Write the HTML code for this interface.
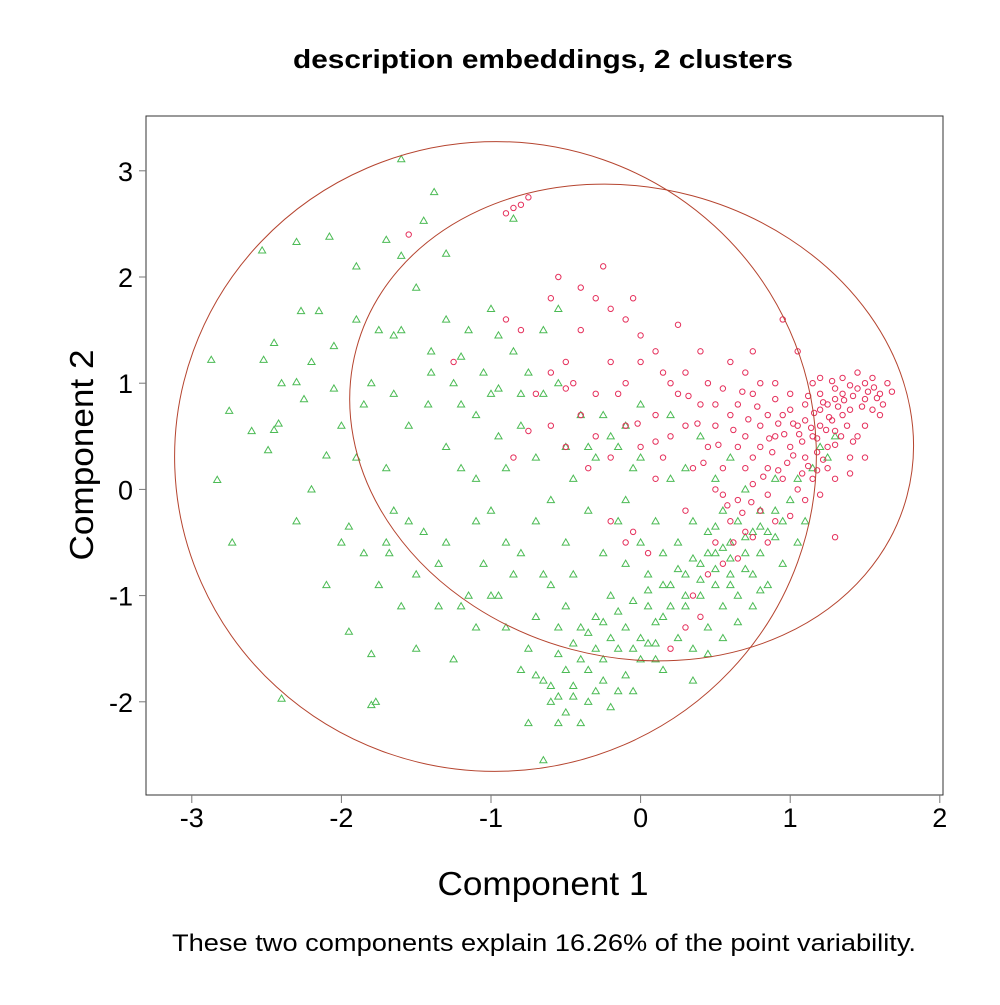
<!DOCTYPE html>
<html><head><meta charset="utf-8"><style>
body{margin:0;background:#fff}
svg text{font-family:"Liberation Sans",Arial,sans-serif}
</style></head><body>
<svg id="chart" width="1000" height="1000" viewBox="0 0 1000 1000" xmlns="http://www.w3.org/2000/svg">
<rect width="1000" height="1000" fill="#fff"/>
<text x="543" y="68" text-anchor="middle" font-size="26" font-weight="bold" textLength="500" lengthAdjust="spacingAndGlyphs">description embeddings, 2 clusters</text>
<rect x="146" y="116" width="797" height="679" fill="none" stroke="#333" stroke-width="1"/>
<g id="xaxis"></g>
<g id="yaxis"></g>
<text x="543" y="895" text-anchor="middle" font-size="33" textLength="211" lengthAdjust="spacingAndGlyphs">Component 1</text>
<text transform="translate(93,455) rotate(-90)" text-anchor="middle" font-size="33" textLength="211" lengthAdjust="spacingAndGlyphs">Component 2</text>
<text x="544" y="951" text-anchor="middle" font-size="24" textLength="744" lengthAdjust="spacingAndGlyphs">These two components explain 16.26% of the point variability.</text>
<g id="marks"></g>
</svg>
<script>
const xTicks=[-3,-2,-1,0,1,2];
const yTicks=[-2,-1,0,1,2,3];
const greenPts=[-2.87,1.22,-2.83,0.09,-2.75,0.74,-2.73,-0.5,-2.53,2.25,-2.52,1.22,-2.49,0.37,-2.45,1.38,-2.45,0.56,-2.42,0.62,-2.4,-1.97,-2.3,2.33,-2.3,1.01,-2.27,1.68,-2.25,0.85,-2.2,1.2,-2.15,1.68,-2.1,0.32,-2.1,-0.9,-2.08,2.38,-2.05,0.95,-2.0,0.6,-1.95,-1.34,-1.9,1.6,-1.9,2.1,-1.85,0.8,-1.8,-1.55,-1.8,-2.03,-1.77,-2.0,-1.75,1.5,-1.7,2.35,-1.7,0.2,-1.68,-0.6,-1.65,1.45,-1.6,3.11,-1.6,1.5,-1.55,-0.3,-1.5,-1.5,-1.45,2.53,-1.42,0.8,-1.38,2.8,-1.3,2.22,-1.3,-0.5,-1.25,1.0,-1.2,0.2,-1.15,-1.0,-1.1,-0.3,-1.05,1.1,-1.0,1.7,-0.95,0.5,-0.9,-1.3,-0.85,2.55,
-1.95,-0.35,-1.85,-0.6,-1.75,-0.9,-1.65,-0.2,-1.6,-1.1,-1.55,0.6,-1.5,-0.8,-1.45,-0.4,-1.4,1.3,-1.35,-1.1,-1.3,0.4,-1.25,-1.6,-1.2,0.8,-1.15,1.5,-1.1,0.1,-1.05,-0.7,-1.0,-0.2,-1.0,0.9,-0.95,-1.0,-0.9,0.2,-0.85,1.3,-0.8,-0.6,-0.8,0.6,-0.75,1.1,-0.75,-1.5,-0.7,-0.3,-0.7,0.3,-0.65,0.9,-0.65,-1.8,-0.6,-0.9,-0.6,-0.1,-0.55,1.0,-0.55,-1.3,-0.5,0.4,-0.5,-0.5,-0.5,-2.1,-0.45,-1.95,-0.45,-0.8,-0.4,0.7,-0.4,-1.6,-0.35,-0.2,-0.35,-2.0,-0.3,-1.2,-0.3,0.3,-0.25,-0.6,-0.25,-1.8,-0.2,0.5,-0.2,-1.0,-0.15,-1.5,-0.15,-0.3,-0.1,-1.3,-0.1,-0.7,-0.05,-1.9,-0.05,0.2,0.0,-1.4,0.0,-0.5,0.05,-1.1,0.05,-0.8,0.1,-1.6,0.1,-0.3,0.15,-1.2,0.15,-0.6,0.2,-0.9,0.2,0.1,0.25,-1.4,0.25,-0.5,0.3,-0.8,0.3,-1.1,0.35,-0.3,0.35,-1.5,0.4,-0.7,0.4,-1.0,0.45,-0.4,0.45,-1.3,0.5,-0.6,0.5,-0.9,0.55,-0.2,0.55,-1.1,0.6,-0.5,0.6,-0.8,0.65,-0.3,0.65,-1.0,0.7,-0.6,0.7,0.0,0.75,-0.4,0.75,-0.8,0.8,-0.2,0.8,-0.6,0.85,-0.4,0.9,-0.2,0.9,0.1,0.95,-0.3,1.0,-0.1,1.05,0.1,1.1,-0.3,1.15,0.2,1.2,0.4,1.25,0.3,1.3,0.5,
-0.7,-1.75,-0.6,-1.85,-0.55,-2.2,-0.6,-2.0,-0.5,-1.7,-0.4,-2.2,-0.3,-1.9,-0.2,-2.05,-0.1,-1.75,-0.05,-1.5,0.05,-1.45,0.1,-1.25,-0.2,-1.4,-0.3,-1.5,-0.4,-1.3,-0.5,-1.1,-0.65,-0.8,-0.7,-1.2,-0.75,-2.2,-0.8,-1.7,-0.65,-2.55,-0.85,-0.8,-0.9,-0.5,-1.0,-1.0,-1.1,-1.3,-1.2,-1.1,-1.35,-0.7,-0.95,1.45,-0.8,0.9,-0.65,1.5,-0.55,1.7,-0.45,0.1,-0.35,0.4,-0.25,0.7,-0.15,0.4,-0.1,0.6,0.0,0.3,-1.3,1.6,-1.5,1.9,-1.6,2.2,-1.4,1.1,-1.2,1.25,-1.1,0.7,-0.95,0.95,-2.3,-0.3,-2.2,0.0,-2.0,-0.5,-1.9,0.3,-1.7,-0.5,-1.65,0.9,-1.8,1.0,-2.05,1.35,-2.4,1.0,-2.6,0.55,-0.1,-0.1,0.3,0.2,0.5,0.1,0.6,0.3,0.4,0.5,0.2,0.7,0.0,0.8,0.15,-1.7,0.35,-1.8,0.45,-1.55,0.55,-1.4,0.65,-1.25,0.75,-1.1,0.85,-0.9,0.95,-0.7,1.05,-0.5,0.6,-0.9,0.5,-0.35,0.8,-0.95,0.7,-0.75,
-0.45,-1.85,-0.55,-1.95,-0.35,-1.7,-0.25,-1.6,-0.15,-1.9,0.0,-1.6,0.1,-1.45,0.2,-1.1,0.3,-1.0,0.4,-0.85,0.5,-0.75,0.6,-0.65,0.7,-0.45,0.8,-0.35,0.9,-0.45,0.55,-0.55,0.45,-0.6,0.35,-0.65,0.25,-0.75,0.15,-0.9,0.05,-0.95,-0.05,-1.05,-0.15,-1.15,-0.25,-1.25,-0.35,-1.35,-0.45,-1.45,-0.55,-1.55];
const redPts=[-0.9,2.6,-0.85,2.65,-0.8,2.68,-0.75,2.75,-1.55,2.4,-1.25,1.2,-0.9,1.6,-0.8,1.5,-0.6,1.8,-0.55,2.0,-0.4,1.9,-0.3,1.8,-0.25,2.1,-0.2,1.7,-0.1,1.6,-0.05,1.8,0.0,1.45,-0.4,1.5,-0.5,1.2,-0.6,1.1,-0.7,0.9,-0.45,1.0,-0.3,0.9,-0.2,1.2,-0.1,1.0,0.0,1.2,0.1,1.3,0.2,1.0,0.25,1.55,0.3,1.1,0.4,1.3,0.45,1.0,0.5,0.8,0.6,1.2,0.7,1.1,0.75,1.3,0.8,1.0,0.9,1.0,0.95,1.6,1.0,0.9,1.1,0.8,1.15,1.0,1.2,0.9,1.25,0.8,1.3,0.85,1.35,0.9,1.4,0.75,1.45,0.95,1.5,0.85,1.55,1.05,1.6,0.9,1.65,1.0,1.68,0.92,1.45,1.1,1.35,1.05,-0.6,0.6,-0.5,0.4,-0.4,0.7,-0.3,0.5,-0.2,0.3,-0.1,0.6,0.0,0.4,0.1,0.7,0.15,0.3,0.2,0.5,0.3,0.6,0.35,0.2,0.4,0.8,0.45,0.4,0.5,0.6,0.55,0.2,0.6,0.7,0.65,0.4,0.7,0.5,0.75,0.3,0.8,0.6,0.85,0.2,0.9,0.5,0.95,0.7,1.0,0.4,1.05,0.6,1.1,0.3,1.15,0.5,1.2,0.6,1.25,0.4,1.3,0.55,1.35,0.7,1.4,0.3,1.45,0.5,1.5,0.6,1.55,0.75,1.2,0.75,1.1,0.65,1.0,0.75,0.9,0.85,0.85,0.7,0.75,0.9,0.65,0.8,0.55,0.95,1.3,0.95,1.25,0.2,1.15,0.1,1.05,0.0,0.95,0.1,0.85,-0.05,0.75,0.05,0.65,-0.1,0.55,-0.05,0.9,-0.3,0.8,-0.2,0.7,-0.4,0.6,-0.3,0.5,-0.5,0.45,-0.8,0.35,-1.0,0.3,-1.3,0.2,-1.5,0.4,-1.2,0.55,-0.7,0.65,-0.65,0.75,-0.45,0.85,-0.5,1.0,-0.25,1.1,-0.1,1.2,-0.05,1.3,-0.45,1.3,0.1,1.4,0.15,1.5,0.3,1.6,0.7,1.05,1.3,0.7,0.2,0.5,0.0,0.3,-0.2,0.1,0.1,-0.1,-0.5,-0.05,-0.4,0.05,-0.6,-0.2,-0.3,0.25,0.9,0.15,1.1,-0.15,0.9,-0.35,0.2,-0.5,0.95,-0.75,0.55,-0.85,0.3,1.2,1.05,1.38,0.6,1.42,0.45,1.28,0.65,1.18,0.35,1.08,0.45,0.98,0.25,0.88,0.35,
1.12,0.88,1.16,0.72,1.22,0.82,1.26,0.68,1.32,0.78,1.36,0.84,1.42,0.88,1.48,0.78,1.52,0.92,1.58,0.86,1.62,0.8,1.14,0.58,1.18,0.48,1.24,0.56,1.3,0.42,1.34,0.5,1.06,0.52,1.02,0.62,0.96,0.52,0.92,0.62,0.86,0.48,0.8,0.4,0.78,0.78,0.72,0.66,0.68,0.92,0.62,0.56,1.12,0.22,1.08,0.15,1.18,0.18,1.22,0.28,1.02,0.32,0.92,0.18,0.82,0.12,0.74,-0.12,0.68,-0.22,0.62,-0.5,0.58,-0.15,0.52,0.42,0.42,0.25,0.38,0.62,0.32,0.88,0.1,0.45,-0.02,0.62,1.28,1.02,1.4,0.98,1.5,1.0,1.56,0.96];
// ellipses: center x, center y, semi-axis x, semi-axis y (data units), rotation deg
const ellGreen=[-0.97,0.31,2.145,2.965,-2];
const ellRed=[-0.06,0.63,1.905,2.21,15];

const NS="http://www.w3.org/2000/svg";
const sx=v=>640.6+v*149.6;
const sy=v=>489.4-v*106.2;
const marks=document.getElementById('marks');
const xa=document.getElementById('xaxis'), ya=document.getElementById('yaxis');
function mk(t,a,p){const e=document.createElementNS(NS,t);for(const k in a)e.setAttribute(k,a[k]);p.appendChild(e);return e;}
xTicks.forEach(v=>{
  const l=mk('line',{x1:sx(v),x2:sx(v),y1:795,y2:803,stroke:'#777'},xa);
  
  
  const t=mk('text',{x:sx(v),y:827,'text-anchor':'middle','font-size':27},xa);
  t.textContent=v;
  
  
});
yTicks.forEach(v=>{
  const l=mk('line',{x1:139,x2:146,y1:sy(v),y2:sy(v),stroke:'#777'},ya);
  
  
  const t=mk('text',{x:133,y:sy(v)+10,'text-anchor':'end','font-size':27},ya);
  t.textContent=v;
  
  
});
for(let i=0;i<greenPts.length;i+=2){
  const x=sx(greenPts[i]),y=sy(greenPts[i+1]);
  const p=mk('polygon',{points:`${x},${y-3.6} ${x-3.6},${y+2.6} ${x+3.6},${y+2.6}`,fill:'none',stroke:'#4cbb55','stroke-width':1},marks);
  
  
}
for(let i=0;i<redPts.length;i+=2){
  const c=mk('circle',{cx:sx(redPts[i]),cy:sy(redPts[i+1]),r:2.7,fill:'none',stroke:'#e5305c','stroke-width':1},marks);
  
  
}
[[ellGreen,'cluster-2-ellipse'],[ellRed,'cluster-1-ellipse']].forEach(([e,n])=>{
  const cx=sx(e[0]),cy=sy(e[1]);
  const el=mk('ellipse',{cx:cx,cy:cy,rx:e[2]*149.6,ry:e[3]*106.2,fill:'none',stroke:'#b5442f','stroke-width':1,transform:`rotate(${e[4]} ${cx} ${cy})`},marks);
  
  
});
</script>
</body></html>
